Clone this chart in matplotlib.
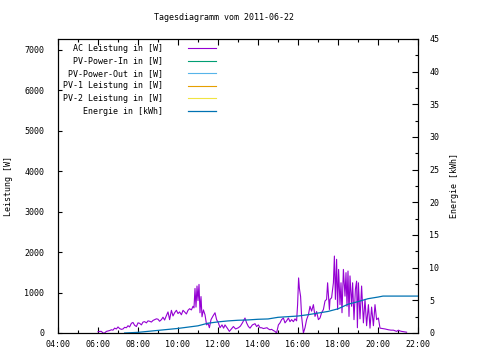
import matplotlib
matplotlib.use("Agg")
import matplotlib.pyplot as plt
from matplotlib.ticker import MultipleLocator, FuncFormatter

TITLE = "Tagesdiagramm vom 2011-06-22"

# AC power, time in hours of day, watts
AC_T = [6.0, 6.08, 6.17, 6.25, 6.33, 6.42, 6.5, 6.58, 6.67, 6.75, 6.83, 6.92,
        7.0, 7.08, 7.17, 7.25, 7.33, 7.42, 7.5, 7.58, 7.67, 7.75, 7.83, 7.92,
        8.0, 8.08, 8.17, 8.25, 8.33, 8.42, 8.5, 8.58, 8.67, 8.75, 8.83, 8.92,
        9.0, 9.08, 9.17, 9.25, 9.33, 9.42, 9.5, 9.58, 9.67, 9.75, 9.83, 9.92,
        10.0, 10.08, 10.17, 10.25, 10.33, 10.42, 10.5, 10.58, 10.67, 10.75,
        10.8, 10.85, 10.9, 10.95, 11.0, 11.05, 11.1, 11.15, 11.2, 11.27,
        11.35, 11.43, 11.5, 11.57, 11.65, 11.75, 11.85, 11.93, 12.02, 12.1,
        12.2, 12.28, 12.35, 12.45, 12.57, 12.67, 12.77, 12.88, 13.02, 13.12,
        13.22, 13.35, 13.43, 13.52, 13.6, 13.72, 13.85, 13.93, 14.02, 14.1,
        14.18, 14.27, 14.35, 14.45, 14.52, 14.6, 14.68, 14.77, 14.85, 14.93,
        15.02, 15.1, 15.18, 15.27, 15.35, 15.43, 15.52, 15.6, 15.68, 15.77,
        15.85, 15.93, 15.98, 16.03, 16.07, 16.13, 16.18, 16.27, 16.35, 16.43,
        16.52, 16.6, 16.68, 16.77, 16.85, 16.93, 17.02, 17.1, 17.18, 17.27,
        17.35, 17.43, 17.48, 17.57, 17.6, 17.68, 17.77, 17.82, 17.87, 17.93,
        17.98, 18.03, 18.1, 18.15, 18.2, 18.27, 18.35, 18.4, 18.45, 18.5,
        18.55, 18.6, 18.68, 18.73, 18.8, 18.87, 18.93, 18.97, 19.02, 19.1,
        19.18, 19.27, 19.35, 19.43, 19.52, 19.6, 19.68, 19.77, 19.85, 19.93,
        20.02, 20.1, 20.22, 20.35, 20.52, 20.65, 20.77, 20.93, 21.02, 21.1,
        21.18, 21.3, 21.43]
AC_W = [30, 40, 40, 0, 0, 40, 50, 60, 80, 70, 120, 100,
        150, 110, 90, 100, 140, 130, 180, 150, 240, 260, 190, 160,
        250, 240, 200, 270, 280, 250, 300, 290, 270, 310, 330, 350,
        340, 290, 330, 390, 320, 430, 520, 330, 560, 420, 500, 560,
        480, 520, 450, 560, 520, 470, 560, 600, 570, 660,
        620, 1100, 640, 1160, 800, 1200, 500, 900, 400, 570,
        450, 200, 240, 130, 330, 420, 500, 330, 250, 130,
        200, 120, 200, 130, 40, 100, 160, 100, 130, 170,
        250, 370, 250, 160, 120, 200, 230, 160, 200, 130,
        130, 110, 120, 130, 100, 80, 90, 60, 40, 0,
        200, 250, 330, 370, 250, 300, 370, 280, 330, 280,
        350, 300, 700, 1360, 1100, 900, 410, 0, 130, 330,
        450, 660, 540, 700, 410, 530, 330, 370, 500, 580,
        790, 830, 1240, 580, 830, 870, 1240, 1900, 830, 1820,
        580, 1570, 700, 1240, 500, 1570, 910, 1490, 660, 1530,
        410, 1410, 660, 1240, 330, 1080, 1280, 130, 1240, 350,
        1160, 250, 830, 180, 700, 120, 640, 180, 700, 330,
        370, 120, 110, 100, 80, 70, 70, 40, 70, 50,
        40, 30, 20]

# Energy, hours of day, kWh
EN_T = [7.33, 8.0, 8.5, 9.0, 9.5, 10.0, 10.5, 11.0, 11.5, 12.0, 12.5, 13.0,
        13.5, 14.0, 14.5, 15.0, 15.5, 16.0, 16.5, 17.0, 17.5, 18.0, 18.5,
        19.0, 19.5, 20.0, 20.25, 22.0]
EN_KWH = [0.0, 0.1, 0.25, 0.4, 0.55, 0.7, 0.9, 1.1, 1.5, 1.7, 1.85, 1.95,
          2.0, 2.1, 2.15, 2.4, 2.5, 2.6, 2.8, 3.05, 3.3, 3.7, 4.4,
          4.8, 5.25, 5.5, 5.65, 5.65]

LABELS = ["AC Leistung in [W]", "PV-Power-In in [W]", "PV-Power-Out in [W]",
          "PV-1 Leistung in [W]", "PV-2 Leistung in [W]", "Energie in [kWh]"]
COLORS = ["#9400d3", "#009e73", "#56b4e9", "#e69f00", "#f0e442", "#0072b2"]


def main():
    plt.rcParams["font.family"] = "DejaVu Sans Mono"
    plt.rcParams["font.size"] = 6

    fig = plt.figure(figsize=(4.8, 3.6), dpi=100)
    ax = fig.add_axes([58 / 480, 27 / 360, 360 / 480, 294 / 360])
    ax2 = ax.twinx()

    width = max(len(s) for s in LABELS)
    names = [s.rjust(width) for s in LABELS]

    handles = []
    h, = ax.plot(AC_T, AC_W, color=COLORS[0], lw=0.8)
    handles.append(h)
    for c in COLORS[1:5]:
        h, = ax.plot([], [], color=c, lw=0.8)
        handles.append(h)
    h, = ax2.plot(EN_T, EN_KWH, color=COLORS[5], lw=0.9)
    handles.append(h)

    ax.set_xlim(4, 22)
    ax.set_ylim(0, 7260)
    ax2.set_ylim(0, 45)

    ax.xaxis.set_major_locator(MultipleLocator(2))
    ax.xaxis.set_minor_locator(MultipleLocator(1))
    ax.xaxis.set_major_formatter(FuncFormatter(lambda v, p: f"{int(v):02d}:00"))
    ax.yaxis.set_major_locator(MultipleLocator(1000))
    ax2.yaxis.set_major_locator(MultipleLocator(5))
    ax2.yaxis.set_minor_locator(MultipleLocator(2.5))

    ax.tick_params(axis="x", which="both", direction="in", top=True, pad=5)
    ax.tick_params(axis="x", which="major", length=4, width=0.8)
    ax.tick_params(axis="x", which="minor", length=2.5, width=0.8)
    ax.tick_params(axis="y", direction="in", length=3, width=0.8, pad=10, right=False)
    ax2.tick_params(axis="y", which="major", direction="in", length=4, width=0.8, pad=8)
    ax2.tick_params(axis="y", which="minor", direction="in", length=2.5, width=0.8)

    for a in (ax, ax2):
        for sp in a.spines.values():
            sp.set_linewidth(0.8)

    ax.set_ylabel("Leistung [W]", labelpad=8)
    ax2.set_ylabel("Energie [kWh]", rotation=90, labelpad=8)
    fig.suptitle(TITLE, x=224 / 480, y=0.965, fontsize=6)

    ax.legend(handles, names, loc="upper left", bbox_to_anchor=(0.0, 1.0),
              markerfirst=False, frameon=False, handlelength=3.4,
              handletextpad=3.0, labelspacing=0.42, borderpad=0.3,
              borderaxespad=0.3, prop={"family": "DejaVu Sans Mono", "size": 6})

    fig.savefig("out.png", dpi=100)


if __name__ == "__main__":
    main()
